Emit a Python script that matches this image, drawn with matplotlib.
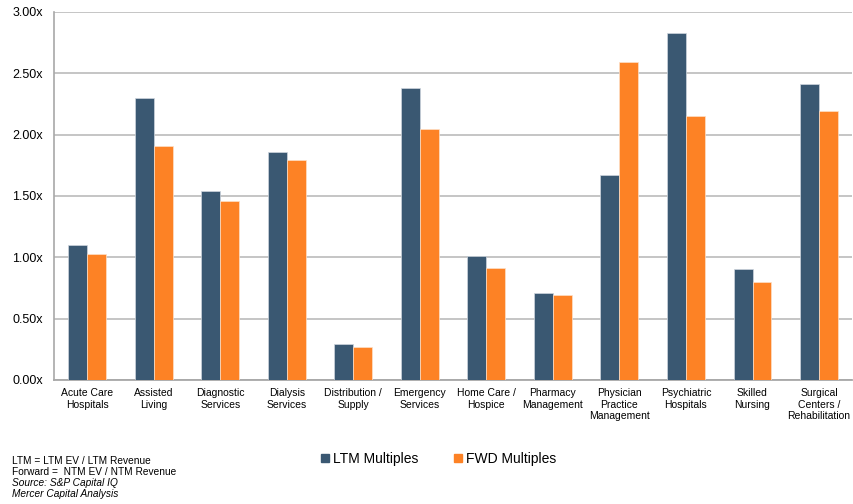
import matplotlib
matplotlib.use("Agg")
import matplotlib.pyplot as plt
import numpy as np
from matplotlib.lines import Line2D

categories = ["Acute Care\nHospitals", "Assisted\nLiving", "Diagnostic\nServices",
              "Dialysis\nServices", "Distribution /\nSupply", "Emergency\nServices",
              "Home Care /\nHospice", "Pharmacy\nManagement", "Physician\nPractice\nManagement",
              "Psychiatric\nHospitals", "Skilled\nNursing", "Surgical\nCenters /\nRehabilitation"]
ltm = [1.10, 2.30, 1.54, 1.86, 0.29, 2.38, 1.01, 0.71, 1.67, 2.83, 0.905, 2.41]
fwd = [1.03, 1.91, 1.46, 1.79, 0.27, 2.05, 0.91, 0.695, 2.59, 2.15, 0.80, 2.19]
yticks = [0.0, 0.5, 1.0, 1.5, 2.0, 2.5, 3.0]
ytick_labels = ["0.00x", "0.50x", "1.00x", "1.50x", "2.00x", "2.50x", "3.00x"]
notes = ["LTM = LTM EV / LTM Revenue", "Forward =  NTM EV / NTM Revenue"]
sources = ["Source: S&P Capital IQ", "Mercer Capital Analysis"]

c_ltm = "#3A5872"
c_fwd = "#FD8225"
grid_c = "#C0C0C0"

plt.rcParams['font.family'] = ['Liberation Sans', 'DejaVu Sans']

fig = plt.figure(figsize=(8.54, 5.04), dpi=100)
ax = fig.add_axes([54/854, 1-380/504, 1-54/854 - 0.002, (380-12)/504])

x = np.arange(len(categories))
w = 0.285
ax.bar(x - w/2, ltm, w, color=c_ltm, edgecolor="#cfd6de", linewidth=0.5, zorder=3)
ax.bar(x + w/2, fwd, w, color=c_fwd, edgecolor="#fde0c8", linewidth=0.5, zorder=3)

ax.set_xlim(-0.5, len(categories) - 0.5)
ax.set_ylim(0, 3.0)
ax.set_yticks(yticks)
ax.set_yticklabels(ytick_labels, fontsize=9)
ax.set_xticks(x)
ax.set_xticklabels(categories, fontsize=7.5, linespacing=1.15)
ax.tick_params(axis='both', length=0)
ax.tick_params(axis='y', pad=8)
ax.tick_params(axis='x', pad=6)
ax.yaxis.grid(True, color=grid_c, linewidth=1.3, zorder=0)
ax.set_axisbelow(True)
for s in ["top", "right"]:
    ax.spines[s].set_visible(False)
ax.spines["left"].set_color("#A8A8A8")
ax.spines["bottom"].set_color("#A8A8A8")
ax.spines["left"].set_linewidth(1.2)
ax.spines["bottom"].set_linewidth(1.3)

handles = [Line2D([0], [0], marker='s', linestyle='none', markersize=5.5, color=c_ltm),
           Line2D([0], [0], marker='s', linestyle='none', markersize=5.5, color=c_fwd)]
fig.legend(handles, ["LTM Multiples", "FWD Multiples"], ncol=2, frameon=False,
           fontsize=10, loc='center left', bbox_to_anchor=(322/854, 1-459/504),
           handlelength=0.5, handletextpad=0.3, columnspacing=2.6, borderaxespad=0, borderpad=0)

y0 = 461
for i, t in enumerate(notes):
    fig.text(12/854, 1-(y0 + i*11)/504, t, fontsize=7.3, va='center', ha='left')
for i, t in enumerate(sources):
    fig.text(12/854, 1-(y0 + (i+2)*11)/504, t, fontsize=7.3, va='center', ha='left', style='italic')

fig.savefig("out.png", dpi=100)
